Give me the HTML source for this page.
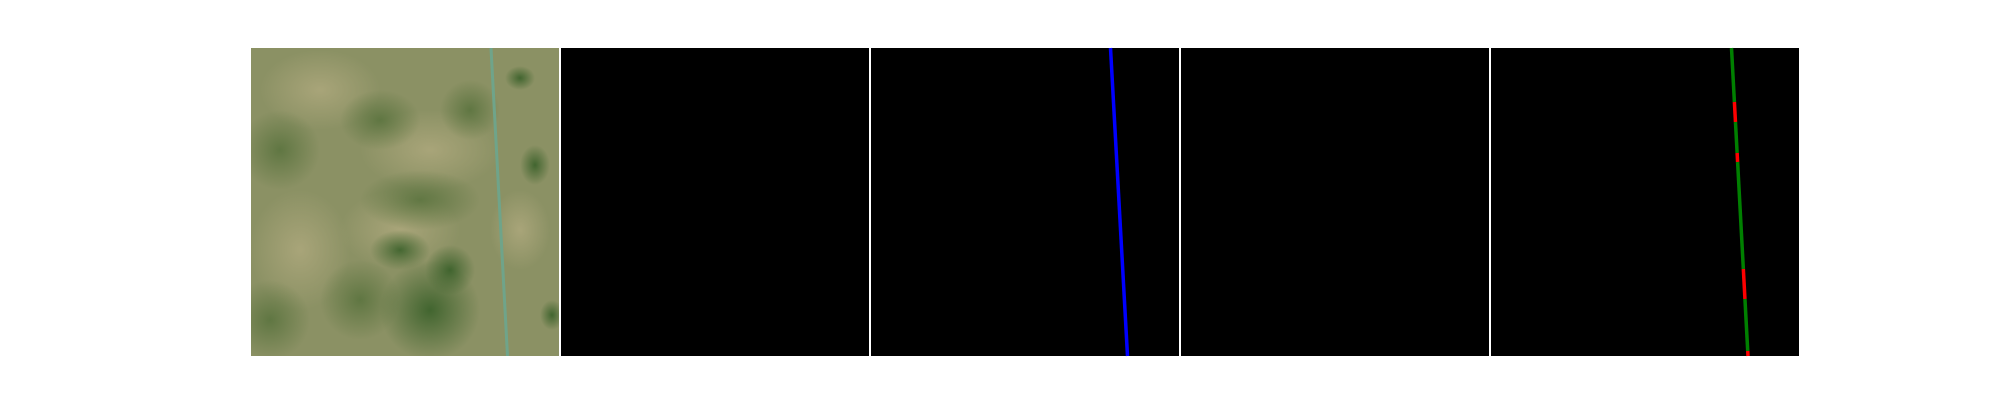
<!DOCTYPE html>
<html><head><meta charset="utf-8"><style>
html,body{margin:0;padding:0;background:#fff;width:2000px;height:400px;overflow:hidden}
svg{position:absolute;left:0;top:0}
</style></head><body>
<svg width="2000" height="400">
<defs>
<radialGradient id="dk"><stop offset="0" stop-color="#4d6b34" stop-opacity="0.7"/><stop offset="1" stop-color="#4d6b34" stop-opacity="0"/></radialGradient>
<radialGradient id="lt"><stop offset="0" stop-color="#b5ad82" stop-opacity="0.7"/><stop offset="1" stop-color="#b5ad82" stop-opacity="0"/></radialGradient>
<radialGradient id="fg"><stop offset="0" stop-color="#2f5a22" stop-opacity="0.8"/><stop offset="1" stop-color="#2f5a22" stop-opacity="0"/></radialGradient>
<clipPath id="c1"><rect x="251" y="48" width="308" height="308"/></clipPath>
</defs>
<g clip-path="url(#c1)">
<rect x="251" y="48" width="308" height="308" fill="#8b9164"/>
<ellipse cx="320" cy="90" rx="60" ry="40" fill="url(#lt)"/>
<ellipse cx="430" cy="150" rx="70" ry="40" fill="url(#lt)"/>
<ellipse cx="300" cy="250" rx="50" ry="60" fill="url(#lt)"/>
<ellipse cx="400" cy="230" rx="60" ry="40" fill="url(#lt)"/>
<ellipse cx="520" cy="230" rx="30" ry="40" fill="url(#lt)"/>
<ellipse cx="280" cy="150" rx="40" ry="40" fill="url(#dk)"/>
<ellipse cx="420" cy="200" rx="60" ry="30" fill="url(#dk)"/>
<ellipse cx="380" cy="120" rx="40" ry="30" fill="url(#dk)"/>
<ellipse cx="270" cy="320" rx="40" ry="40" fill="url(#dk)"/>
<ellipse cx="360" cy="300" rx="40" ry="40" fill="url(#dk)"/>
<ellipse cx="470" cy="110" rx="30" ry="30" fill="url(#dk)"/>
<ellipse cx="430" cy="310" rx="50" ry="50" fill="url(#fg)"/>
<ellipse cx="400" cy="250" rx="30" ry="20" fill="url(#fg)"/>
<ellipse cx="450" cy="270" rx="25" ry="25" fill="url(#fg)"/>
<ellipse cx="535" cy="165" rx="15" ry="20" fill="url(#fg)"/>
<ellipse cx="520" cy="78" rx="15" ry="12" fill="url(#fg)"/>
<ellipse cx="552" cy="315" rx="12" ry="15" fill="url(#fg)"/>
<line x1="491" y1="48" x2="507.5" y2="356" stroke="#6fa48a" stroke-width="3"/>
</g>
<rect x="561" y="48" width="308" height="308" fill="#000"/>
<rect x="871" y="48" width="308" height="308" fill="#000"/>
<line x1="1110.5" y1="48" x2="1127.5" y2="356" stroke="#0000ff" stroke-width="3.5"/>
<rect x="1181" y="48" width="308" height="308" fill="#000"/>
<g id="p5">
<rect x="1491" y="48" width="308" height="308" fill="#000"/>
</g>
</svg>
<script>
const segStarts=[48,102,122,153,162,269,299,351];
const segEnds=[102,122,153,162,269,299,351,356];
const segClass=["green","red","green","red","green","red","green","red"];
const g=document.getElementById('p5');
const ns='http://www.w3.org/2000/svg';
function xAt(y){return 1491+240.5+(y-48)/308*16.5;}
for(let i=0;i<segStarts.length;i++){
  const l=document.createElementNS(ns,'line');
  l.setAttribute('x1',xAt(segStarts[i]));l.setAttribute('y1',segStarts[i]);
  l.setAttribute('x2',xAt(segEnds[i]));l.setAttribute('y2',segEnds[i]);
  l.setAttribute('stroke',segClass[i]==='red'?'#ff0000':'#008000');
  l.setAttribute('stroke-width','3.5');
  
  
  g.appendChild(l);
}
</script>
</body></html>
